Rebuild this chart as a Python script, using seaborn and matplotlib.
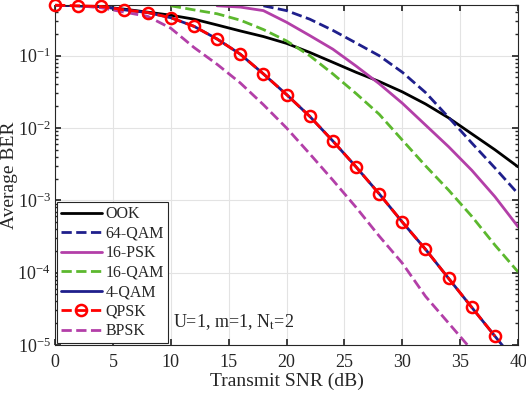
import numpy as np
import pandas as pd
import seaborn as sns
import matplotlib.pyplot as plt

sns.set_theme(style="ticks")
plt.rcParams['font.family'] = ['Liberation Serif', 'DejaVu Serif']
plt.rcParams['mathtext.fontset'] = 'stix'

# BER curves (transmit SNR in dB)
snr = [0, 2, 4, 6, 8, 10, 12, 14, 16, 18, 20, 22, 24, 26, 28, 30, 32, 34, 36, 38, 40]

ook = [0.5, 0.49, 0.475, 0.44, 0.40, 0.363, 0.32, 0.266, 0.22, 0.184, 0.148, 0.111,
       0.081, 0.059, 0.044, 0.0316, 0.0215, 0.0138, 0.0083, 0.005, 0.0029]
qpsk = [0.5, 0.49, 0.48, 0.43, 0.395, 0.335, 0.255, 0.17, 0.105, 0.056, 0.029, 0.0145,
        0.0066, 0.0029, 0.00123, 5.0e-4, 2.1e-4, 8.3e-5, 3.3e-5, 1.32e-5, 5.3e-6]
qam4 = qpsk
bpsk = [0.5, 0.49, 0.46, 0.40, 0.35, 0.24, 0.13, 0.076, 0.042, 0.021, 0.01, 0.0044,
        0.0019, 8.0e-4, 3.2e-4, 1.35e-4, 4.7e-5, 2.0e-5, 8.5e-6, 3.6e-6, 1.6e-6]

snr_16qam = [10, 12, 14, 16, 18, 20, 22, 24, 26, 28, 30, 32, 34, 36, 38, 40]
qam16 = [0.49, 0.43, 0.38, 0.31, 0.23, 0.16, 0.1, 0.056, 0.030, 0.0155, 0.0068,
         0.003, 0.00138, 6.0e-4, 2.4e-4, 1.02e-4]

snr_16psk = [14, 16, 18, 20, 22, 24, 26, 28, 30, 32, 34, 36, 38, 40]
psk16 = [0.49, 0.47, 0.42, 0.29, 0.19, 0.123, 0.072, 0.041, 0.022, 0.011, 0.0055,
         0.0026, 0.00112, 4.3e-4]

snr_64qam = [18, 20, 22, 24, 26, 28, 30, 32, 34, 36, 38, 40]
qam64 = [0.49, 0.42, 0.32, 0.224, 0.15, 0.1, 0.059, 0.031, 0.014, 0.0062, 0.0028, 0.00123]

navy = '#1f1f8c'
magenta = '#b33fa8'
green = '#5cb82e'

fig = plt.figure(figsize=(5.26, 3.96), dpi=100)
ax = fig.add_axes([0.1046, 0.129, 0.8804, 0.858])

lw = 2.0
sns.lineplot(x=snr, y=ook, ax=ax, color='black', lw=lw, label='OOK')
sns.lineplot(x=snr_64qam, y=qam64, ax=ax, color=navy, lw=lw, ls='--', label='64-QAM')
sns.lineplot(x=snr_16psk, y=psk16, ax=ax, color=magenta, lw=lw, label='16-PSK')
sns.lineplot(x=snr_16qam, y=qam16, ax=ax, color=green, lw=lw, ls='--', label='16-QAM')
sns.lineplot(x=snr, y=qam4, ax=ax, color=navy, lw=lw, label='4-QAM')
sns.lineplot(x=snr[:-1], y=qpsk[:-1], ax=ax, color='red', lw=lw, ls='--', marker='o',
             markersize=8, markerfacecolor='none', markeredgecolor='red',
             markeredgewidth=1.8, label='QPSK', clip_on=False, zorder=3)
sns.lineplot(x=snr, y=bpsk, ax=ax, color=magenta, lw=lw, ls='--', label='BPSK')

ax.set_yscale('log')
ax.set_xlim(0, 40)
ax.set_ylim(1e-5, 0.5)
ax.set_xticks([0, 5, 10, 15, 20, 25, 30, 35, 40])
ax.grid(True, which='major', color='#e3e3e3', lw=0.8)
ax.tick_params(which='both', direction='in', top=True, right=True, labelsize=13,
               color='#262626')
ax.tick_params(which='major', length=4, pad=3)
ax.tick_params(axis='x', which='major', pad=6.5)
ax.tick_params(which='minor', length=2.5)
ax.tick_params(axis='x', which='minor', top=False, bottom=False)
for s in ax.spines.values():
    s.set_color('#262626')
    s.set_linewidth(0.8)

ax.set_xlabel('Transmit SNR (dB)', fontsize=14, labelpad=1)
ax.set_ylabel('Average BER', fontsize=14)
ax.yaxis.set_label_coords(-0.081, 0.5)

ax.text(10.2, 2.1e-5, 'U=1, m=1, N$_{\\mathrm{t}}$=2', fontsize=13, va='center')

leg = ax.legend(loc='lower left', fontsize=11.5, frameon=True, fancybox=False,
                edgecolor='#262626', framealpha=1, borderaxespad=0.1,
                labelspacing=0.22, handlelength=2.6, handletextpad=0.2,
                borderpad=0.25)
leg.get_frame().set_linewidth(0.8)

fig.savefig('out.png', dpi=100)
